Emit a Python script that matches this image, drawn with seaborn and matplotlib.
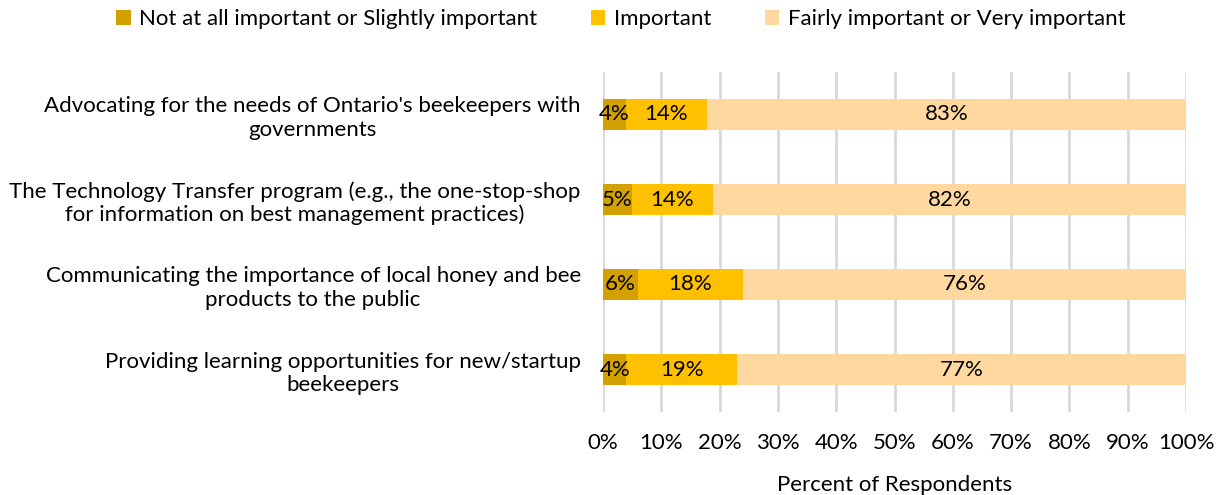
import matplotlib
matplotlib.use("Agg")
import matplotlib.pyplot as plt
import seaborn as sns
import pandas as pd
import numpy as np

sns.set_theme(style="white")
plt.rcParams["font.family"] = ["Lato", "DejaVu Sans"]
plt.rcParams.update({
    "text.color": "#000000",
    "axes.labelcolor": "#000000",
    "xtick.color": "#000000",
    "ytick.color": "#000000",
})

categories = [
    "Advocating for the needs of Ontario's beekeepers with\ngovernments",
    "The Technology Transfer program (e.g., the one-stop-shop\nfor information on best management practices)",
    "Communicating the importance of local honey and bee\nproducts to the public",
    "Providing learning opportunities for new/startup\nbeekeepers",
]
series_names = [
    "Not at all important or Slightly important",
    "Important",
    "Fairly important or Very important",
]
not_important = [4, 5, 6, 4]
important = [14, 14, 18, 19]
very_important = [83, 82, 76, 77]
colors = ["#D2A000", "#FFC000", "#FFD8A0"]
x_ticks = [0, 10, 20, 30, 40, 50, 60, 70, 80, 90, 100]

values = np.array([not_important, important, very_important], dtype=float)
# 100% stacked: each row scaled to its own total
shares = values / values.sum(axis=0) * 100

FS = 16

fig = plt.figure(figsize=(12.2, 4.95), dpi=100)
ax = fig.add_axes([603 / 1220, 1 - 412 / 495, 583 / 1220, 340 / 495])

left = np.zeros(len(categories))
for i, name in enumerate(series_names):
    df = pd.DataFrame({"cat": categories, "val": shares[i], "left": left})
    sns.barplot(data=df, x="val", y="cat", left=df["left"], color=colors[i],
                width=0.36, orient="h", ax=ax, label=name, saturation=1,
                linewidth=0, zorder=3)
    for j, (v, l) in enumerate(zip(shares[i], left)):
        ax.text(l + v / 2, j, f"{int(values[i][j])}%", ha="center", va="center",
                fontsize=FS, color="#000000", zorder=4)
    left = left + shares[i]

ax.set_xlim(0, 100)
ax.set_ylim(3.5, -0.5)
ax.set_xticks(x_ticks)
ax.set_xticklabels([f"{t}%" for t in x_ticks], fontsize=FS)
ax.xaxis.grid(True, color="#D9D9D9", linewidth=2, zorder=0)
ax.yaxis.grid(False)
for s in ax.spines.values():
    s.set_visible(False)
ax.tick_params(axis="x", length=0, pad=15)
ax.tick_params(axis="y", length=0, pad=16)
ax.set_yticks(range(len(categories)))
ax.set_yticklabels(categories, fontsize=FS, multialignment="center")
ax.set_ylabel("")
ax.set_xlabel("Percent of Respondents", fontsize=FS, labelpad=16)

leg = ax.legend(loc="center", bbox_to_anchor=(621 / 1220, 1 - 19 / 495),
                bbox_transform=fig.transFigure, ncol=3, frameon=False,
                fontsize=FS, handlelength=0.65, handleheight=0.65,
                handletextpad=0.4, columnspacing=2.4)
for t in leg.get_texts():
    t.set_color("#000000")

fig.savefig("out.png", dpi=100)
